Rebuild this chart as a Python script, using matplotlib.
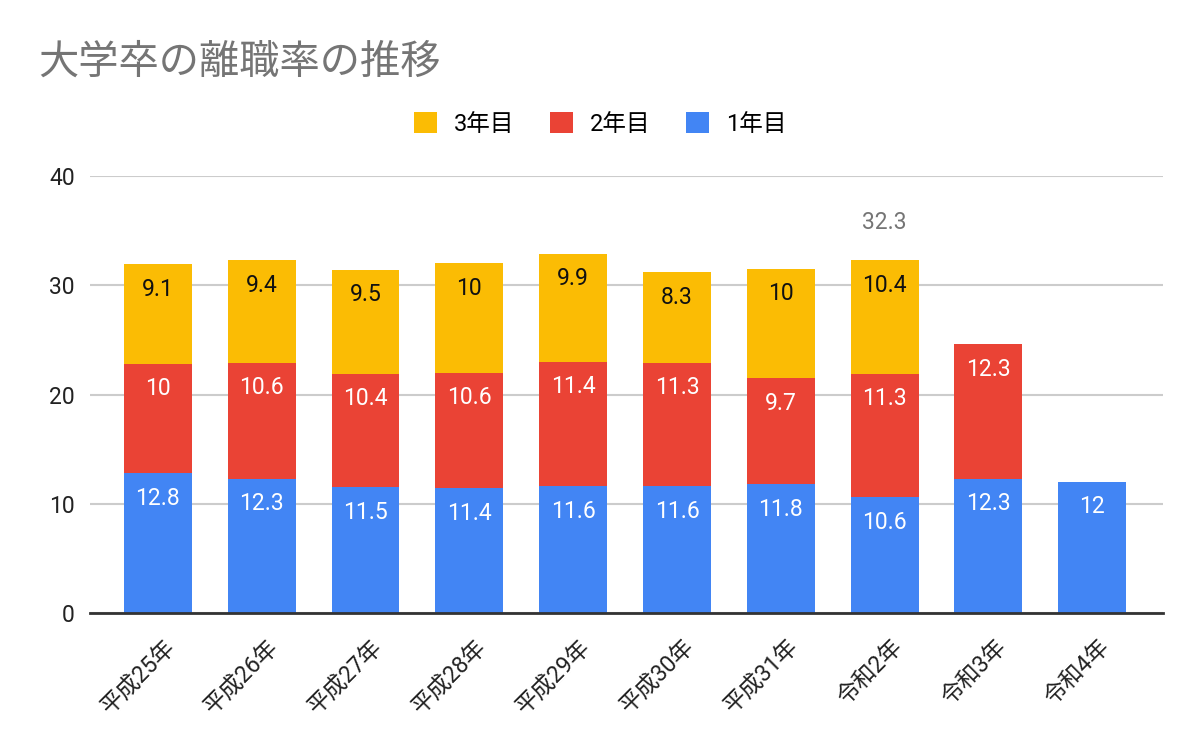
import matplotlib
matplotlib.use("Agg")
import matplotlib.pyplot as plt
import numpy as np
from matplotlib.patches import Patch
from matplotlib.transforms import ScaledTranslation

plt.rcParams['font.family'] = ['Roboto', 'Noto Sans CJK JP', 'DejaVu Sans']

categories = ["平成25年", "平成26年", "平成27年", "平成28年", "平成29年",
              "平成30年", "平成31年", "令和2年", "令和3年", "令和4年"]
year1 = [12.8, 12.3, 11.5, 11.4, 11.6, 11.6, 11.8, 10.6, 12.3, 12]
year2 = [10, 10.6, 10.4, 10.6, 11.4, 11.3, 9.7, 11.3, 12.3, None]
year3 = [9.1, 9.4, 9.5, 10, 9.9, 8.3, 10, 10.4, None, None]
series_names = ["1年目", "2年目", "3年目"]
total_label_index = 7
yticks = [0, 10, 20, 30, 40]

colors = ["#4285F4", "#EA4335", "#FBBC04"]
label_colors = ["white", "white", "#111111"]

fig = plt.figure(figsize=(12, 7.42), dpi=100)
ax = fig.add_axes([0.075, 1 - 613 / 742, 0.894, (613 - 176) / 742])

x = np.arange(len(categories))
width = 0.654
bottom = np.zeros(len(categories))
for vals, col, lc in zip([year1, year2, year3], colors, label_colors):
    v = np.array([np.nan if a is None else a for a in vals], dtype=float)
    h = np.nan_to_num(v)
    ax.bar(x, h, width, bottom=bottom, color=col, zorder=3)
    for i in range(len(x)):
        if not np.isnan(v[i]):
            ax.annotate(f"{vals[i]:g}", (x[i], bottom[i] + h[i]),
                        xytext=(0, -18), textcoords="offset points",
                        ha="center", va="center", color=lc, fontsize=16.5, zorder=4)
    bottom = bottom + h

ax.annotate(f"{bottom[total_label_index]:.1f}", (x[total_label_index], bottom[total_label_index]),
            xytext=(0, 27), textcoords="offset points", ha="center", va="center",
            color="#757575", fontsize=16.5)

ax.set_ylim(0, 40)
ax.set_xlim(-0.654, len(categories) - 1 + 0.68)
ax.set_yticks(yticks)
ax.set_yticklabels([str(t) for t in yticks], fontsize=16.5, color="#222222")
ax.yaxis.grid(True, color="#cccccc", linewidth=1.5, zorder=0)
ax.set_axisbelow(True)
for s in ["top", "right", "left"]:
    ax.spines[s].set_visible(False)
ax.spines["bottom"].set_color("#333333")
ax.spines["bottom"].set_linewidth(2)
ax.spines["bottom"].set_zorder(5)
ax.tick_params(axis="both", length=0)
ax.tick_params(axis="y", pad=11)
ax.set_xticks(x)
ax.set_xticklabels(categories, rotation=45, ha="right", va="center",
                   rotation_mode="anchor", fontsize=16.5, color="#222222")
ax.tick_params(axis="x", pad=22)
shift = ScaledTranslation(14 / 100, 0, fig.dpi_scale_trans)
for lbl in ax.get_xticklabels():
    lbl.set_transform(lbl.get_transform() + shift)

fig.text(0.032, 1 - 62 / 742, "大学卒の離職率の推移", fontsize=29, color="#757575",
         ha="left", va="center")

handles = [Patch(facecolor=colors[2]), Patch(facecolor=colors[1]), Patch(facecolor=colors[0])]
labels = [series_names[2], series_names[1], series_names[0]]
fig.legend(handles, labels, loc="center", bbox_to_anchor=(0.5, 1 - 124 / 742), ncol=3,
           frameon=False, fontsize=17, handlelength=0.98, handleheight=0.98,
           handletextpad=0.72, columnspacing=1.5)

fig.savefig("out.png", dpi=100)
